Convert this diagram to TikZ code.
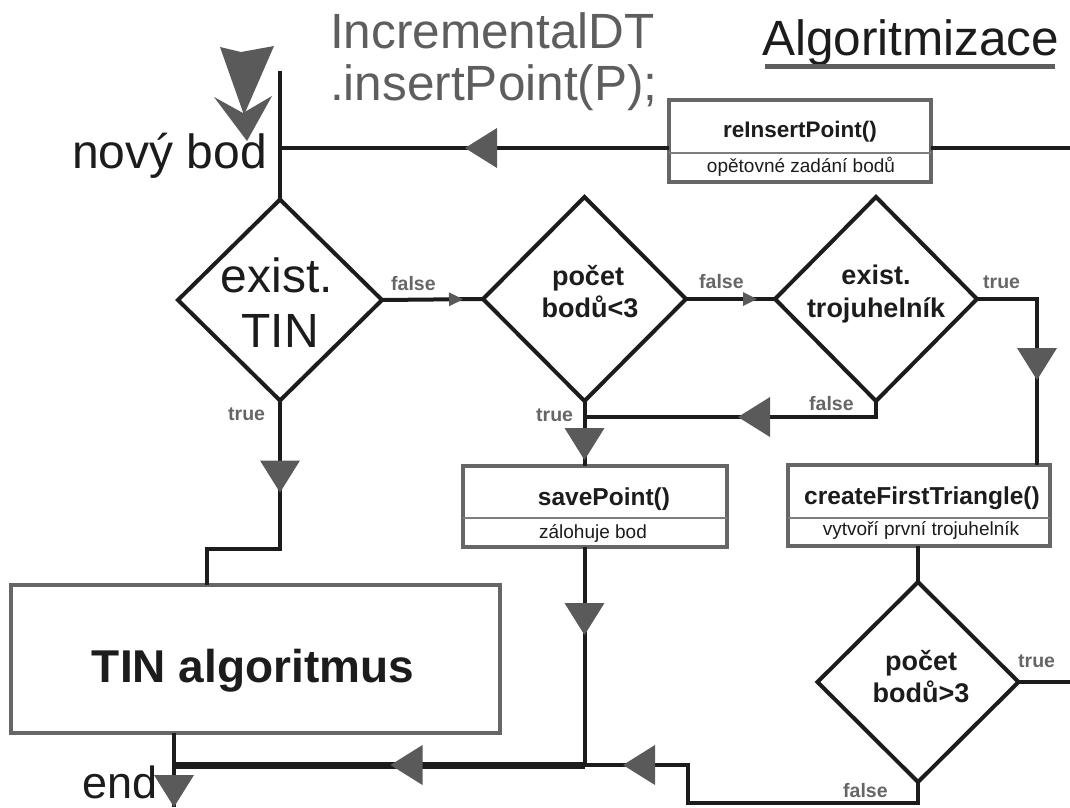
\documentclass[tikz,border=0pt]{standalone}
\usepackage{fontspec}
\setmainfont{Liberation Sans}
\usetikzlibrary{shapes.geometric,decorations.markings,calc}

\definecolor{ink}{HTML}{1C1C1C}
\definecolor{tipgray}{HTML}{5A5A5A}
\definecolor{framegray}{HTML}{666666}
\definecolor{labelgray}{HTML}{666666}
\definecolor{titlegray}{HTML}{5E5E5E}

\newcommand{\setfs}[1]{\fontsize{#1}{#1}\selectfont}

\begin{document}
\begin{tikzpicture}[x=1pt,y=-1pt,
  conn/.style={draw=ink, line width=4pt},
  trunkline/.style={draw=ink, line width=7pt},
  decision/.style={diamond, draw=ink, line width=4pt, inner sep=0pt, outer sep=0pt, fill=white},
  procbox/.style={rectangle, draw=framegray, line width=4pt, inner sep=0pt, outer sep=0pt, fill=white},
  divider/.style={draw=framegray!85, line width=1.2pt},
  flag/.style={font=\setfs{19.5}\bfseries, text=labelgray, inner sep=0pt, anchor=base west},
  dtext/.style={font=\setfs{27}\bfseries, text=ink, inner sep=0pt, anchor=base},
  bigword/.style={font=\setfs{48}, text=ink, inner sep=0pt},
  boxtitle/.style={font=\setfs{24.5}\bfseries, text=ink, inner sep=0pt, anchor=base},
  boxnote/.style={font=\setfs{19}, text=ink, inner sep=0pt, anchor=base},
  bigtip/.style={postaction={decorate}, decoration={markings,
      mark=at position #1 with {\fill[tipgray] (0pt,0pt) -- (-32pt,20pt) -- (-32pt,-20pt) -- cycle;}}},
  smalltip/.style={postaction={decorate}, decoration={markings,
      mark=at position #1 with {\fill[tipgray] (0pt,0pt) -- (-14pt,7pt) -- (-14pt,-7pt) -- cycle;}}},
]
\useasboundingbox[fill=white] (0,0) rectangle (1070,807);

% ---- heading ----
\node[font=\setfs{49.5}, text=titlegray, inner sep=0pt, anchor=base west] (hdA) at (330,48) {IncrementalDT};
\node[font=\setfs{49.5}, text=titlegray, inner sep=0pt, anchor=base west] (hdB) at (330,100) {.insertPoint(P);};
\node[font=\setfs{49.5}, text=ink, inner sep=0pt, anchor=base west] (alg) at (762,55) {Algoritmizace};
\draw[draw=titlegray, line width=5pt] (765,66) -- (1055,66);

% entry marker
\fill[tipgray] (220,47) -- (241,52) -- (274,46) -- (244,115) -- cycle;
\fill[tipgray] (214,97) -- (243,113) -- (272,96) -- (247,141) -- cycle;
\node[bigword, anchor=base west] (newpt) at (72,168) {nový bod};

% ---- decisions ----
\node[decision, minimum width=204pt, minimum height=201pt] (d1) at (280,300) {};
\node[decision, minimum width=203pt, minimum height=204pt] (d2) at (584.5,299) {};
\node[decision, minimum width=202pt, minimum height=204pt] (d3) at (876,299) {};
\node[decision, minimum width=201pt, minimum height=200pt] (d4) at (918,682) {};

\node[bigword, anchor=base] (d1a) at (277,292) {exist.};
\node[bigword, anchor=base] (d1b) at (280,347) {TIN};
\node[dtext] (d2a) at (588,285) {počet};
\node[dtext] (d2b) at (590,317) {bodů<3};
\node[dtext] (d3a) at (876,284) {exist.};
\node[dtext] (d3b) at (876,317) {trojuhelník};
\node[dtext] (d4a) at (921,670) {počet};
\node[dtext] (d4b) at (921,702) {bodů>3};

% ---- process boxes ----
\node[procbox, minimum width=262pt, minimum height=82pt] (reins) at (800,141) {};
\draw[divider] (reins.west |- 0,153) -- (reins.east |- 0,153);
\node[font=\setfs{22.5}\bfseries, text=ink, inner sep=0pt, anchor=base] (reinsA) at (800,137) {reInsertPoint()};
\node[boxnote] (reinsB) at (801,172) {opětovné zadání bodů};

\node[procbox, minimum width=264pt, minimum height=81pt] (save) at (595,506.5) {};
\draw[divider] (save.west |- 0,518) -- (save.east |- 0,518);
\node[boxtitle] (saveA) at (604,505) {savePoint()};
\node[boxnote] (saveB) at (593,538) {zálohuje bod};

\node[procbox, minimum width=262pt, minimum height=81pt] (cft) at (919,505.5) {};
\draw[divider] (cft.west |- 0,518) -- (cft.east |- 0,518);
\node[boxtitle] (cftA) at (922,504) {createFirstTriangle()};
\node[boxnote] (cftB) at (921,535) {vytvoří první trojuhelník};

\node[procbox, minimum width=489pt, minimum height=148pt] (tin) at (255.5,659) {};
\node[font=\setfs{46}\bfseries, text=ink, inner sep=0pt, anchor=base] (tinA) at (253,682) {TIN algoritmus};

\node[font=\setfs{45}, text=ink, inner sep=0pt, anchor=base west] (endlbl) at (82,798) {end};

% ---- junctions and free ends ----
\coordinate (entry) at (280,71);
\coordinate (join) at (280,148);
\coordinate (rin) at (1070,148);
\coordinate (rout) at (1070,682);
\coordinate (bendA) at (280,549);
\coordinate (merge) at (584.5,417);
\coordinate (trunkR) at (584.5,765);
\coordinate (trunkL) at (174,765);
\coordinate (loopB) at (688,803);
\coordinate (finish) at (174,807);

% ---- connectors ----
\draw[conn] (entry) -- (d1.north);
\draw[conn] (rin) -- (rin -| reins.east);
\draw[conn, bigtip=204pt] (reins.west |- join) -- (join);
\draw[conn, smalltip=81pt] (d1.east) -- (d2.west);
\draw[conn, smalltip=71pt] (d2.east) -- (d3.west);
\draw[conn, bigtip=141pt] (d3.east) -| ([xshift=-13pt]cft.north east);
\draw[conn, bigtip=59pt] (d2.south) -- (d2.south |- save.north);
\draw[conn, bigtip=154pt] (d3.south) |- (merge);
\draw[conn, bigtip=92pt] (d1.south) -- (bendA) -| ([xshift=-48.5pt]tin.north);
\draw[conn, bigtip=88pt] (d2.south |- save.south) -- (trunkR);
\draw[conn] (cft.south -| d4.north) -- (d4.north);
\draw[conn] (d4.east) -- (rout);
\draw[conn, bigtip=354pt] (d4.south) |- (loopB) |- (trunkR);
\draw[trunkline, bigtip=194pt] (trunkR) -- (trunkL);
\draw[conn, bigtip=74pt] (tin.south -| trunkL) -- (finish);

% ---- branch labels ----
\node[flag] (f1) at (391,290) {false};
\node[flag] (t1) at (228,420) {true};
\node[flag] (f2) at (699,288) {false};
\node[flag] (t2) at (536,421) {true};
\node[flag] (f3) at (809,410) {false};
\node[flag] (t3) at (983,288) {true};
\node[flag] (t4) at (1018,667) {true};
\node[flag] (f4) at (843,797) {false};
\end{tikzpicture}
\end{document}
